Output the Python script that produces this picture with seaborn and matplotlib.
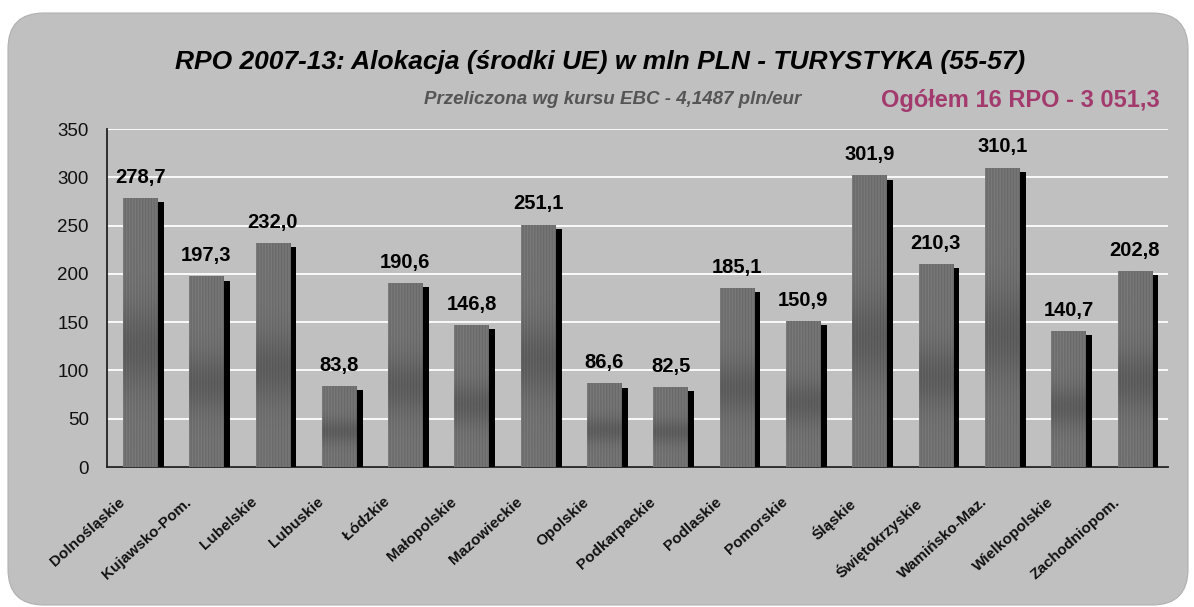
import numpy as np
import pandas as pd
import matplotlib
matplotlib.use("Agg")
import matplotlib.pyplot as plt
import matplotlib.patheffects as pe
import matplotlib.transforms as mtransforms
from matplotlib.patches import FancyBboxPatch
import seaborn as sns

regions = ["Dolnośląskie", "Kujawsko-Pom.", "Lubelskie", "Lubuskie", "Łódzkie",
           "Małopolskie", "Mazowieckie", "Opolskie", "Podkarpackie", "Podlaskie",
           "Pomorskie", "Śląskie", "Świętokrzyskie", "Wamińsko-Maz.", "Wielkopolskie",
           "Zachodniopom."]
values = [278.7, 197.3, 232.0, 83.8, 190.6, 146.8, 251.1, 86.6, 82.5, 185.1,
          150.9, 301.9, 210.3, 310.1, 140.7, 202.8]
yticks = [0, 50, 100, 150, 200, 250, 300, 350]

title = "RPO 2007-13: Alokacja (środki UE) w mln PLN - TURYSTYKA (55-57)"
subtitle = "Przeliczona wg kursu EBC - 4,1487 pln/eur"
total_text = "Ogółem 16 RPO - 3 051,3"

sns.set_style("white")
plt.rcParams['font.family'] = ['Liberation Sans', 'DejaVu Sans']

fig = plt.figure(figsize=(11.94, 6.07), dpi=100)
fig.patch.set_facecolor("white")
panel = FancyBboxPatch((8 / 1194, 2 / 607), 1180 / 1194, 592 / 607,
                       boxstyle="round,pad=0,rounding_size=0.03",
                       transform=fig.transFigure, facecolor="#c0c0c0",
                       edgecolor="#b0b0b0", linewidth=0.8, zorder=-10,
                       mutation_aspect=1194 / 607)
fig.patches.append(panel)

ax = fig.add_axes([107 / 1194, 1 - 467 / 607, 1061 / 1194, 338 / 607])
ax.set_facecolor("#c0c0c0")

df = pd.DataFrame({"region": regions, "value": values})
sns.barplot(data=df, x="region", y="value", color="#6a6a6a", width=0.52,
            saturation=1, ax=ax, zorder=3, linewidth=0)

# textured fill + shadow
cols = 24
rows = 60
tex = np.zeros((rows, cols, 3))
for r in range(rows):
    band = 1.0 - 0.18 * np.exp(-((r - rows * 0.55) / (rows * 0.15)) ** 2)
    for c in range(cols):
        base = 0.48 if c % 2 == 0 else 0.41
        tex[r, c, :] = base * band
for p in ax.patches:
    p.set_path_effects([pe.SimplePatchShadow(offset=(4.5, -3), shadow_rgbFace="black",
                                             alpha=1.0), pe.Normal()])
    x0, y0 = p.get_x(), p.get_y()
    w, h = p.get_width(), p.get_height()
    im = ax.imshow(tex, extent=[x0, x0 + w, y0, y0 + h], aspect="auto",
                   zorder=3.5, interpolation="bilinear")
    im.set_clip_path(p)
ax.set_ylim(0, 350)
ax.set_xlim(-0.5, len(regions) - 0.5)
ax.set_aspect("auto")

# value labels
for i, v in enumerate(values):
    ax.annotate(f"{v:.1f}".replace(".", ","), (i, v), xytext=(0, 8),
                textcoords="offset points", ha="center", va="bottom",
                fontsize=14.5, fontweight="bold", color="black", zorder=5)

ax.set_yticks(yticks)
ax.set_yticklabels([str(t) for t in yticks], fontsize=13.5, color="#111111")
ax.yaxis.grid(True, color="white", linewidth=1.3, zorder=0)
ax.set_axisbelow(True)
ax.tick_params(axis="y", direction="out", length=5, width=1, color="#222222", pad=8)

ax.set_xticks(range(len(regions)))
ax.set_xticklabels(regions, rotation=42, ha="right", rotation_mode="anchor",
                   fontsize=11, fontweight="bold", color="#111111")
ax.set_xticks(np.arange(-0.5, len(regions)), minor=True)
ax.tick_params(axis="x", which="major", length=0, pad=20)
ax.tick_params(axis="x", which="minor", direction="out", length=5, width=1,
               color="#222222")
for lab in ax.get_xticklabels():
    lab.set_transform(lab.get_transform() + mtransforms.ScaledTranslation(
        -0.22, 0, fig.dpi_scale_trans))

ax.set_xlabel("")
ax.set_ylabel("")
for s in ["top", "right"]:
    ax.spines[s].set_visible(False)
for s in ["left", "bottom"]:
    ax.spines[s].set_color("#222222")
    ax.spines[s].set_linewidth(1.3)

fig.text(600 / 1194, 1 - 62 / 607, title, ha="center", va="center", fontsize=19,
         fontweight="bold", fontstyle="italic", color="black")
fig.text(613 / 1194, 1 - 99 / 607, subtitle, ha="center", va="center", fontsize=13.5,
         fontweight="bold", fontstyle="italic", color="#555555")
fig.text(1020 / 1194, 1 - 100 / 607, total_text, ha="center", va="center", fontsize=17,
         fontweight="bold", color="#a33a6e")

fig.savefig("out.png", dpi=100, facecolor="white")
